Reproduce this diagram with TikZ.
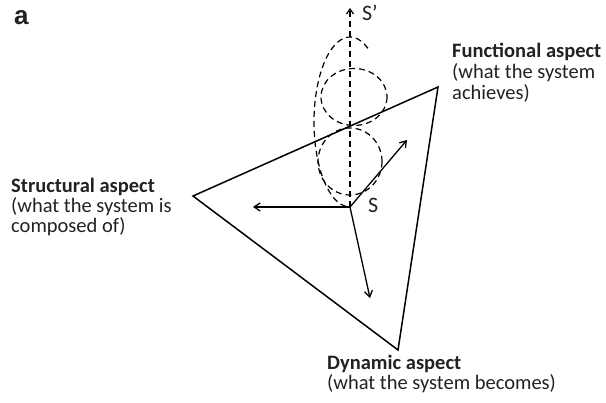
\documentclass[tikz,border=0pt]{standalone}
\usepackage{fontspec}
\setmainfont{Carlito}
\newfontfamily\labelfont{Liberation Sans}
\usetikzlibrary{arrows.meta}
\definecolor{txt}{HTML}{222222}
\tikzset{
  lbl/.style={anchor=base west, inner sep=0pt, text=txt, font=\fontsize{20.5}{21}\selectfont},
  lblb/.style={lbl, font=\fontsize{20.5}{21}\selectfont\bfseries},
  tri/.style={line width=1.5pt, line join=miter},
  vec/.style={line width=1.3pt, -{Straight Barb[length=6pt,width=8pt]}},
  dsh/.style={line width=1.2pt, dash pattern=on 6pt off 4pt},
}
\begin{document}
\begin{tikzpicture}[x=1pt,y=-1pt]
\useasboundingbox (0,0) rectangle (606,403);
% named points
\coordinate (A) at (193,196);
\coordinate (B) at (438,87);
\coordinate (C) at (398,350);
\coordinate (S) at (350,207);
\coordinate (L) at (253,207);
\coordinate (U) at (407,140);
\coordinate (D) at (370,298);
\coordinate (T) at (350,8);
% triangle
\draw[tri] (A) -- (B) -- (C) -- cycle;
% dashed rotations
\draw[dsh] (354,97) ellipse [x radius=33, y radius=28.5];
\draw[dsh] (350,161.5) ellipse [x radius=32, y radius=33.5];
\draw[dsh] (350,122) ++(60:36 and -85) arc[start angle=60, end angle=270, x radius=36, y radius=-85];
\draw[dsh, -{Straight Barb[length=5pt,width=7pt]}] (S) -- (T);
% vectors
\draw[vec] (S) -- (L);
\draw[vec] (S) -- (U);
\draw[vec] (S) -- (D);
% labels
\node[anchor=base west, inner sep=0pt, text=txt, font=\labelfont\fontsize{26}{26}\selectfont\bfseries] (la) at (14,25) {a};
\node[anchor=base west, inner sep=0pt, text=txt, font=\fontsize{22}{22}\selectfont] (lS) at (368,213) {S};
\node[anchor=base west, inner sep=0pt, text=txt, font=\fontsize{22}{22}\selectfont] (lSp) at (362,21) {S’};
\node[lblb] (f1) at (452,58) {Functional aspect};
\node[lbl] (f2) at (452,79) {(what the system};
\node[lbl] (f3) at (452,100) {achieves)};
\node[lblb] (s1) at (11,193) {Structural aspect};
\node[lbl] (s2) at (11,213) {(what the system is};
\node[lbl] (s3) at (11,233) {composed of)};
\node[lblb] (d1) at (327,370) {Dynamic aspect};
\node[lbl] (d2) at (327,390) {(what the system becomes)};
\end{tikzpicture}
\end{document}
